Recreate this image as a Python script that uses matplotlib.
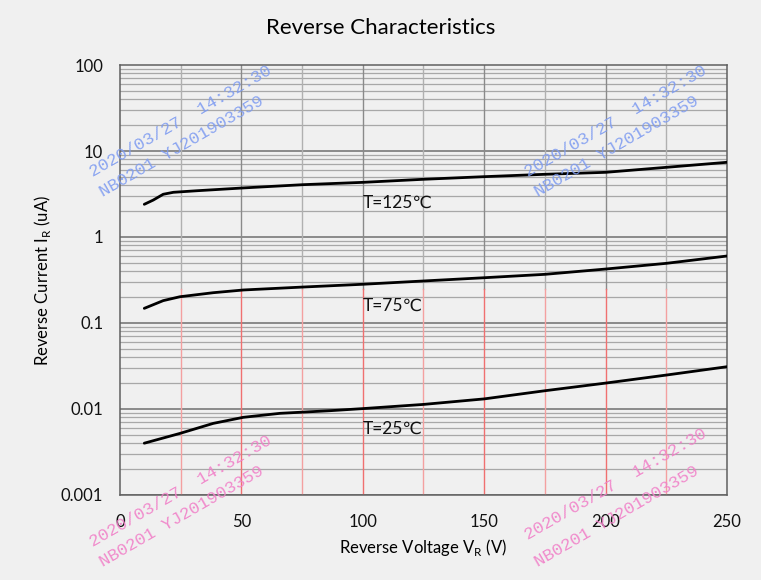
import numpy as np
import matplotlib
matplotlib.use('Agg')
import matplotlib.pyplot as plt

plt.rcParams['font.family'] = ['Lato', 'DejaVu Sans']

# values
vr_125 = [10, 13.7, 17.8, 22, 31.6, 50.8, 75.4, 100, 125, 150, 175, 200, 225, 250]
ir_125 = [2.40, 2.69, 3.14, 3.31, 3.45, 3.72, 4.06, 4.32, 4.69, 5.03, 5.36, 5.65, 6.46, 7.39]
vr_75 = [10, 17.8, 24.7, 38.4, 50.8, 75.5, 100, 125, 150, 175, 200, 225, 250]
ir_75 = [0.148, 0.182, 0.202, 0.225, 0.242, 0.262, 0.282, 0.308, 0.336, 0.368, 0.424, 0.494, 0.601]
vr_25 = [10, 24.7, 38.4, 50.8, 65.9, 86.5, 100, 125, 150, 175, 200, 225, 250]
ir_25 = [0.0040, 0.0052, 0.0068, 0.0080, 0.0089, 0.00955, 0.0101, 0.0113, 0.0131, 0.0163, 0.020, 0.0248, 0.031]
curve_labels = ['T=125℃', 'T=75℃', 'T=25℃']
label_pos = [(100, 2.2), (100, 0.14), (100, 0.0051)]

wm_line1 = '2020/03/27  14:32:30'
wm_line2 = 'NB0201 YJ201903359'

bg = '#f0f0f0'
fig = plt.figure(figsize=(7.61, 5.8), dpi=100, facecolor=bg)
ax = fig.add_axes([0.1577, 0.1466, 0.7976, 0.7413])
ax.set_facecolor(bg)
ax.set_yscale('log')
ax.set_xlim(0, 250)
ax.set_ylim(0.001, 100)

# grid lines
for dec in [0.001, 0.01, 0.1, 1, 10]:
    for m in range(2, 10):
        ax.axhline(dec * m, color='#a8a8a8', lw=0.9, zorder=1)
    ax.axhline(dec, color='#707070', lw=1.1, zorder=1)
for x in range(25, 250, 25):
    c_up = '#8a8a8a' if x % 50 == 0 else '#b0b0b0'
    c_lo = '#f07070' if x % 50 == 0 else '#f4a0a0'
    ax.plot([x, x], [0.25, 100], color=c_up, lw=1.0, zorder=1)
    ax.plot([x, x], [0.001, 0.25], color=c_lo, lw=1.0, zorder=1)

for xs, ys in [(vr_125, ir_125), (vr_75, ir_75), (vr_25, ir_25)]:
    ax.plot(xs, ys, color='black', lw=2.0, zorder=3,
            solid_capstyle='round', solid_joinstyle='round')
for lab, (x, y) in zip(curve_labels, label_pos):
    ax.text(x, y, lab, fontsize=12.5, color='#111111', zorder=4)

for s in ax.spines.values():
    s.set_color('#606060')
    s.set_linewidth(1.1)

ax.set_xticks([0, 50, 100, 150, 200, 250])
ax.set_xticklabels(['0', '50', '100', '150', '200', '250'])
ax.set_yticks([0.001, 0.01, 0.1, 1, 10, 100])
ax.set_yticklabels(['0.001', '0.01', '0.1', '1', '10', '100'])
ax.minorticks_off()
ax.tick_params(length=0, labelsize=12, colors='#111111', pad=12)
ax.tick_params(axis='x', pad=14)

ax.set_xlabel('Reverse Voltage V$_\\mathregular{R}$ (V)', fontsize=12, labelpad=5)
ax.set_ylabel('Reverse Current I$_\\mathregular{R}$ (uA)', fontsize=12, labelpad=6)
fig.text(0.5, 0.951, 'Reverse Characteristics', ha='center', va='center', fontsize=16)

# stamp watermarks (figure pixel coords of the baseline start)
stamps = [((93, 177), (103, 197), '#7f9cf0'),
          ((528, 177), (538, 197), '#7f9cf0'),
          ((93, 547), (103, 567), '#f080c8'),
          ((528, 540), (538, 567), '#f080c8')]
W, H = 761, 580
for (p1, p2, col) in stamps:
    for (px, py), txt in [(p1, wm_line1), (p2, wm_line2)]:
        fig.text(px / W, 1 - py / H, txt, rotation=30, rotation_mode='anchor',
                 ha='left', va='baseline', fontsize=12.5, color=col,
                 family='Liberation Mono', alpha=0.9, zorder=10)

fig.savefig('out.png', dpi=100, facecolor=bg)
